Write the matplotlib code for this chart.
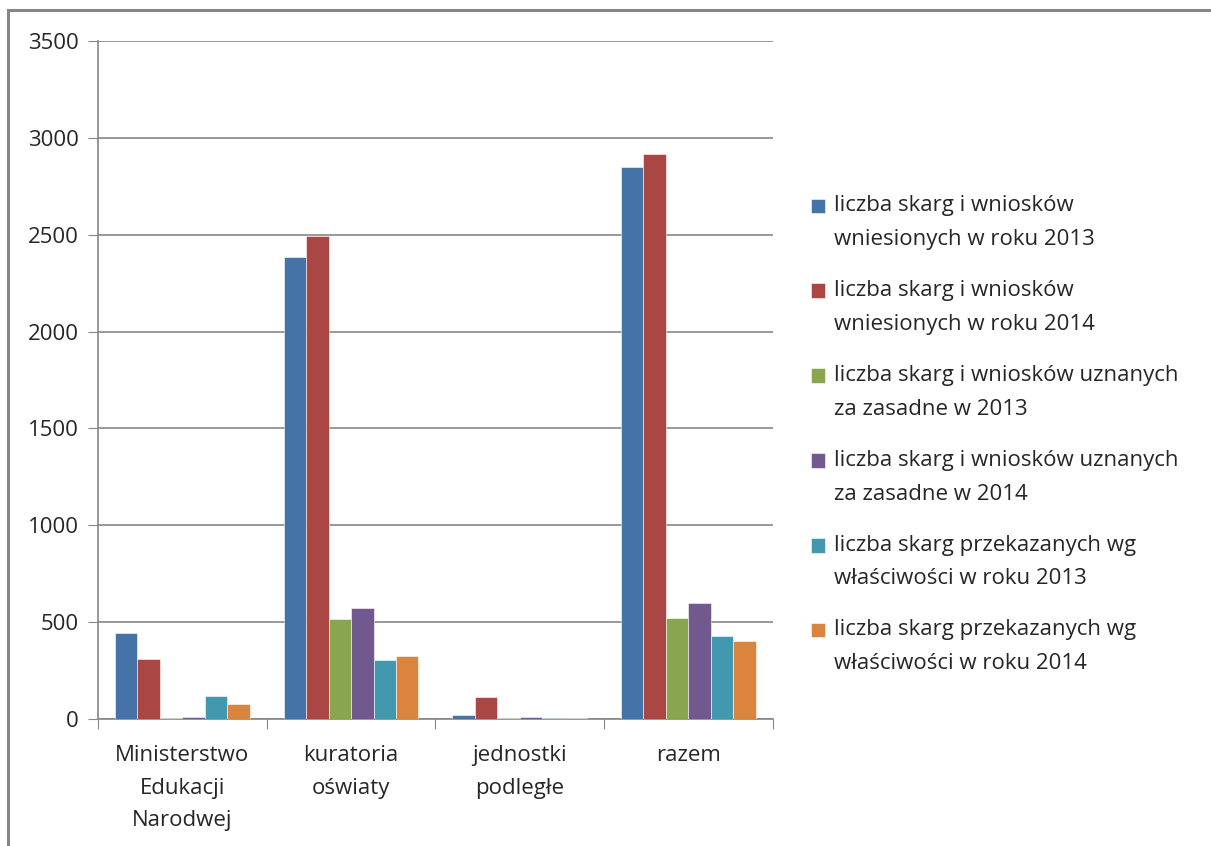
import numpy as np
import matplotlib
matplotlib.use("Agg")
from matplotlib import pyplot as plt
from matplotlib.patches import Rectangle

categories = ["Ministerstwo\nEdukacji\nNarodwej", "kuratoria\noświaty", "jednostki\npodległe", "razem"]
series_names = [
    "liczba skarg i wniosków\nwniesionych w roku 2013",
    "liczba skarg i wniosków\nwniesionych w roku 2014",
    "liczba skarg i wniosków uznanych\nza zasadne w 2013",
    "liczba skarg i wniosków uznanych\nza zasadne w 2014",
    "liczba skarg przekazanych wg\nwłaściwości w roku 2013",
    "liczba skarg przekazanych wg\nwłaściwości w roku 2014",
]
wniesione_2013 = [444, 2385, 21, 2850]
wniesione_2014 = [310, 2493, 114, 2917]
zasadne_2013 = [5, 516, 4, 521]
zasadne_2014 = [10, 573, 10, 599]
przekazane_2013 = [119, 305, 4, 428]
przekazane_2014 = [77, 325, 4, 403]
series = [wniesione_2013, wniesione_2014, zasadne_2013, zasadne_2014, przekazane_2013, przekazane_2014]
colors = ["#4572A7", "#AA4643", "#89A54E", "#71588F", "#4198AF", "#DB843D"]

plt.rcParams['font.family'] = ['Open Sans', 'DejaVu Sans']

fig = plt.figure(figsize=(12.11, 8.46), dpi=100)
ax = fig.add_axes([0.081, 0.150, 0.557, 0.8015])

# figure border, like the Excel chart frame
fig.patches.append(Rectangle((8 / 1211, -0.05), 1.2, (836 / 846) + 0.05,
                             transform=fig.transFigure, fill=False,
                             edgecolor="#868686", linewidth=2.2, zorder=0))

x = np.arange(len(categories))
w = 1 / 7.5
for i, (vals, c, name) in enumerate(zip(series, colors, series_names)):
    ax.bar(x - 2.5 * w + i * w, vals, width=w, color=c, label=name,
           edgecolor="white", linewidth=0.4, zorder=3)

ax.set_xlim(-0.5, len(categories) - 0.5)
ax.set_ylim(0, 3500)
ax.set_yticks(range(0, 3501, 500))
ax.set_xticks(np.arange(-0.5, len(categories), 1), minor=False)
ax.set_xticklabels([])
ax.set_xticks(x, minor=True)
ax.set_xticklabels(categories, minor=True, fontsize=16, color="#262626", linespacing=1.7)
ax.tick_params(axis="x", which="major", length=7, color="#868686", direction="out")
ax.tick_params(axis="x", which="minor", length=0, pad=19)
ax.tick_params(axis="y", length=7, color="#868686", labelsize=16, labelcolor="#262626", pad=7)
ax.yaxis.grid(True, color="#868686", linewidth=1.2, zorder=0)
for s in ["top", "right"]:
    ax.spines[s].set_visible(False)
for s in ["left", "bottom"]:
    ax.spines[s].set_color("#868686")
    ax.spines[s].set_linewidth(1.2)

leg = fig.legend(loc="center left", bbox_to_anchor=(0.653, 0.486), frameon=False,
                 fontsize=16, handlelength=0.65, handleheight=0.65, handletextpad=0.4,
                 labelspacing=1.35, labelcolor="#262626")
for t in leg.get_texts():
    t.set_linespacing(1.8)
# Excel puts the square next to the first line of each entry
for h in leg.legend_handles:
    h.set_y(h.get_y() + 12.3)

plt.savefig("out.png", dpi=100)
